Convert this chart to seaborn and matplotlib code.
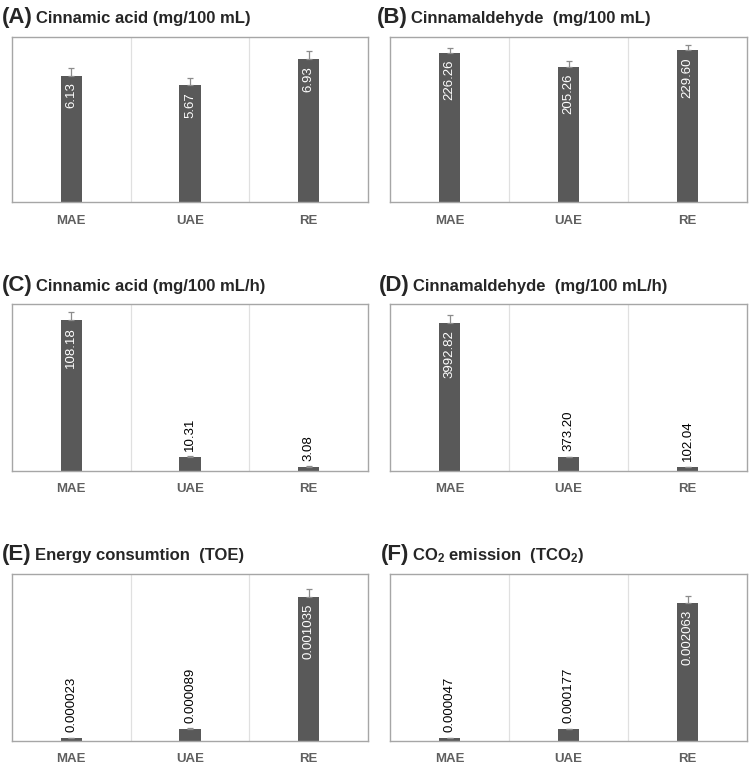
import numpy as np
import pandas as pd
import matplotlib
matplotlib.use("Agg")
import matplotlib.pyplot as plt
import seaborn as sns

# ---- data ----
categories = ["MAE", "UAE", "RE"]

titles = ["Cinnamic acid (mg/100 mL)", "Cinnamaldehyde  (mg/100 mL)",
          "Cinnamic acid (mg/100 mL/h)", "Cinnamaldehyde  (mg/100 mL/h)",
          "Energy consumtion  (TOE)", r"CO$_2$ emission  (TCO$_2$)"]
panel_tags = ["(A)", "(B)", "(C)", "(D)", "(E)", "(F)"]

cinnamic_acid = [6.13, 5.67, 6.93]
cinnamic_acid_err = [0.37, 0.34, 0.37]
cinnamaldehyde = [226.26, 205.26, 229.60]
cinnamaldehyde_err = [7.6, 8.0, 8.0]
cinnamic_acid_rate = [108.18, 10.31, 3.08]
cinnamic_acid_rate_err = [6.0, 0.4, 0.25]
cinnamaldehyde_rate = [3992.82, 373.20, 102.04]
cinnamaldehyde_rate_err = [215.0, 10.0, 5.0]
energy = [0.000023, 0.000089, 0.001035]
energy_err = [0.000001, 0.000003, 0.000055]
co2 = [0.000047, 0.000177, 0.002063]
co2_err = [0.000002, 0.000005, 0.000105]

value_labels = [
    ["6.13", "5.67", "6.93"],
    ["226.26", "205.26", "229.60"],
    ["108.18", "10.31", "3.08"],
    ["3992.82", "373.20", "102.04"],
    ["0.000023", "0.000089", "0.001035"],
    ["0.000047", "0.000177", "0.002063"],
]
series = [cinnamic_acid, cinnamaldehyde, cinnamic_acid_rate,
          cinnamaldehyde_rate, energy, co2]
errors = [cinnamic_acid_err, cinnamaldehyde_err, cinnamic_acid_rate_err,
          cinnamaldehyde_rate_err, energy_err, co2_err]
ymaxes = [8, 250, 120, 4500, 0.0012, 0.0025]

# ---- style ----
sns.set_theme(style="white")
plt.rcParams['font.family'] = ['Liberation Sans', 'DejaVu Sans']
plt.rcParams['mathtext.fontset'] = 'custom'
plt.rcParams['mathtext.rm'] = 'Liberation Sans:bold'
plt.rcParams['mathtext.bf'] = 'Liberation Sans:bold'
plt.rcParams['mathtext.default'] = 'rm'

W, H = 750, 765
fig = plt.figure(figsize=(7.5, 7.65), dpi=100)

bar_color = "#595959"
spine_color = "#a6a6a6"
sep_color = "#e0e0e0"

col_x = [(12, 368), (390, 747)]
row_y = [(37, 202), (304, 471), (574, 741)]
title_pos = [(2, 23), (377, 23), (2, 291), (379, 291), (2, 560), (381, 560)]

tag_texts = []
for i in range(6):
    r, c = divmod(i, 2)
    x0, x1 = col_x[c]
    y0, y1 = row_y[r]
    ax = fig.add_axes([x0 / W, 1 - y1 / H, (x1 - x0) / W, (y1 - y0) / H])
    df = pd.DataFrame({"method": categories, "value": series[i]})
    sns.barplot(data=df, x="method", y="value", color=bar_color,
                saturation=1, width=0.18, ax=ax, order=categories)
    for p in ax.patches:
        p.set_edgecolor("none")
    xs = np.arange(len(categories))
    vals = np.array(series[i])
    errs = np.array(errors[i])
    ax.errorbar(xs, vals, yerr=[np.zeros_like(errs), errs], fmt="none",
                ecolor="#8c8c8c", elinewidth=0.9, capsize=2.5, capthick=0.9,
                zorder=3)
    ax.set_xlim(-0.5, 2.5)
    ax.set_ylim(0, ymaxes[i])
    for b in [0.5, 1.5]:
        ax.axvline(b, color=sep_color, lw=0.9, zorder=0)
    for s in ax.spines.values():
        s.set_visible(True)
        s.set_color(spine_color)
        s.set_linewidth(1.0)
    ax.set_yticks([])
    ax.set_xlabel("")
    ax.set_ylabel("")
    ax.tick_params(axis="x", length=0, pad=9)
    for lab in ax.get_xticklabels():
        lab.set_fontweight("bold")
        lab.set_fontsize(9.5)
        lab.set_color("#5f5f5f")
    for k in range(len(categories)):
        v = vals[k]
        if v / ymaxes[i] > 0.4:
            ax.annotate(value_labels[i][k], xy=(xs[k], v), xytext=(0, -5),
                        textcoords="offset points", rotation=90,
                        ha="center", va="top", color="white", fontsize=9.5)
        else:
            ax.annotate(value_labels[i][k], xy=(xs[k], v + errs[k]),
                        xytext=(0, 4), textcoords="offset points",
                        rotation=90, ha="center", va="bottom",
                        color="black", fontsize=9.5)
    tx, ty = title_pos[i]
    t1 = fig.text(tx / W, 1 - ty / H, panel_tags[i], fontsize=16,
                  fontweight="bold", ha="left", va="baseline")
    tag_texts.append((t1, ty, titles[i]))

fig.canvas.draw()
renderer = fig.canvas.get_renderer()
for t1, ty, title in tag_texts:
    bb = t1.get_window_extent(renderer)
    fig.text((bb.x1 + 3) / W, 1 - ty / H, title, fontsize=12,
             fontweight="bold", ha="left", va="baseline")

fig.savefig("out.png", dpi=100)
